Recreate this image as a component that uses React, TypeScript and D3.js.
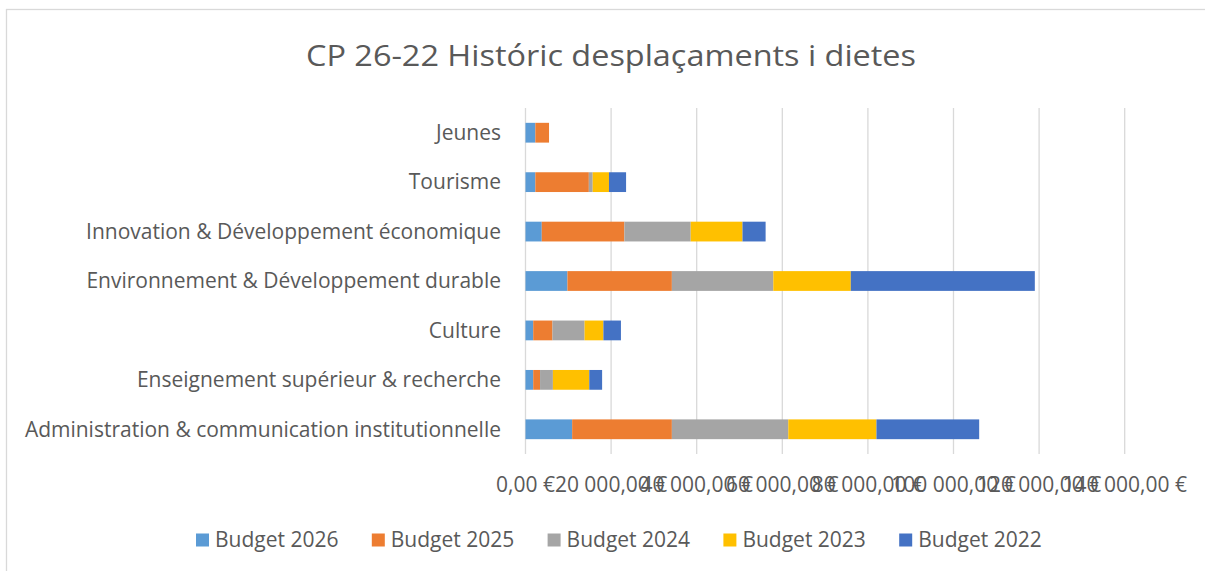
import React from "react";
import * as d3 from "d3";

const categories = [
  "Jeunes",
  "Tourisme",
  "Innovation & Développement économique",
  "Environnement & Développement durable",
  "Culture",
  "Enseignement supérieur & recherche",
  "Administration & communication institutionnelle",
];

const seriesNames = ["Budget 2026", "Budget 2025", "Budget 2024", "Budget 2023", "Budget 2022"];
const seriesColors = ["#5B9BD5", "#ED7D31", "#A5A5A5", "#FFC000", "#4472C4"];

// values per category, same order as categories
const budget2026 = [2300, 2300, 3800, 9800, 1800, 1800, 10900];
const budget2025 = [3200, 12500, 19300, 24400, 4500, 1600, 23300];
const budget2024 = [0, 900, 15500, 23700, 7500, 3000, 27200];
const budget2023 = [0, 3800, 12100, 18100, 4400, 8500, 20600];
const budget2022 = [0, 4000, 5400, 43000, 4100, 3000, 24000];

const xTicks = [0, 20000, 40000, 60000, 80000, 100000, 120000, 140000];

const title = "CP 26-22 Históric desplaçaments i dietes";

const W = 1205;
const H = 571;
const font = "'Open Sans', sans-serif";
const textColor = "#595959";
const fs = 21;

export default function App() {
  const margin = { top: 108, bottom: 454, left: 525.5 };

  const rows = categories.map((c, i) => ({
    cat: c,
    "Budget 2026": budget2026[i],
    "Budget 2025": budget2025[i],
    "Budget 2024": budget2024[i],
    "Budget 2023": budget2023[i],
    "Budget 2022": budget2022[i],
  }));

  const stacked = d3.stack<any>().keys(seriesNames)(rows);

  const x = d3.scaleLinear().domain([0, 160000]).range([margin.left, margin.left + 8 * 85.6]);
  const y = d3
    .scaleBand()
    .domain(categories)
    .range([margin.top, margin.bottom])
    .paddingInner(0.6)
    .paddingOuter(0.3);

  const locale = d3.formatLocale({
    decimal: ",",
    thousands: "\u00a0",
    grouping: [3],
    currency: ["", "\u00a0€"],
  });
  const fmt = locale.format("$,.2f");

  return (
    <svg
      width={W}
      height={H}
      style={{ position: "absolute", left: 0, top: 0, background: "#fff" }}
      fontFamily={font}
    >
      <rect x={6.5} y={9.5} width={W + 10} height={H + 10} fill="#fff" stroke="#D9D9D9" strokeWidth={1.3} />
      <text x={611} y={66} textAnchor="middle" fontSize={30} fill={textColor} textLength={610} lengthAdjust="spacingAndGlyphs">
        {title}
      </text>

      {xTicks.map((t) => (
        <line key={t} x1={x(t)} x2={x(t)} y1={margin.top} y2={margin.bottom} stroke="#D9D9D9" strokeWidth={1.3} />
      ))}

      {stacked.map((s, si) => (
        <g key={s.key} fill={seriesColors[si]}>
          {s.map((d, i) => (
            <rect
              key={i}
              x={x(d[0])}
              y={y(categories[i])!}
              width={Math.max(0, x(d[1]) - x(d[0]))}
              height={y.bandwidth()}
            />
          ))}
        </g>
      ))}

      {categories.map((c) => (
        <text
          key={c}
          x={501}
          y={y(c)! + y.bandwidth() / 2}
          dy="0.35em"
          textAnchor="end"
          fontSize={fs}
          fill={textColor}
        >
          {c}
        </text>
      ))}

      {xTicks.map((t) => (
        <text key={t} x={x(t)} y={492} textAnchor="middle" fontSize={fs} fill={textColor}>
          {fmt(t)}
        </text>
      ))}

      {seriesNames.map((n, i) => {
        const lx = 196 + i * 175.8;
        return (
          <g key={n} transform={`translate(${lx},540)`}>
            <rect x={0} y={-6.5} width={13} height={13} fill={seriesColors[i]} />
            <text x={19} y={0} dy="0.35em" fontSize={fs} fill={textColor}>
              {n}
            </text>
          </g>
        );
      })}
    </svg>
  );
}
